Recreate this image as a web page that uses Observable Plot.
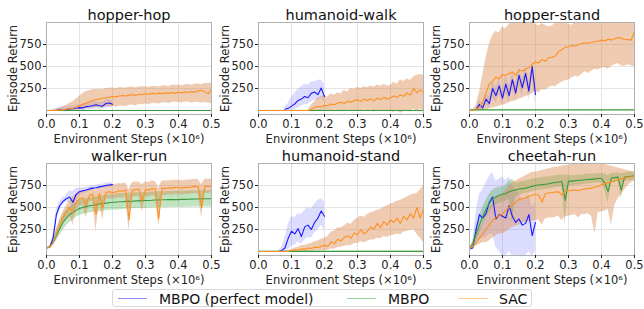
<!DOCTYPE html>
<html><head><meta charset="utf-8">
<script src="https://cdn.jsdelivr.net/npm/d3@7"></script>
<script src="https://cdn.jsdelivr.net/npm/@observablehq/plot@0.6"></script>
<style>
body{margin:0;background:#fff;font-family:"DejaVu Sans",sans-serif;}
#wrap{position:relative;width:644px;height:309px;overflow:hidden;}
.panel{position:absolute;}
#legend{position:absolute;left:112px;top:289px;width:420px;height:18px;border:1px solid #d8d8d8;border-radius:3px;box-sizing:border-box;font-size:14px;color:#111;}
.li{position:absolute;top:0;height:18px;line-height:18px;white-space:nowrap;}
.sw{position:absolute;top:8px;width:29px;height:0;border-top:1.5px solid;}
</style></head><body><div id="wrap"></div>
<script>
// ---------- x grids ----------
const steps = [0,0.01,0.02,0.03,0.04,0.05,0.06,0.07,0.08,0.09,
0.1,0.11,0.12,0.13,0.14,0.15,0.16,0.17,0.18,0.19,
0.2,0.21,0.22,0.23,0.24,0.25,0.26,0.27,0.28,0.29,
0.3,0.31,0.32,0.33,0.34,0.35,0.36,0.37,0.38,0.39,
0.4,0.41,0.42,0.43,0.44,0.45,0.46,0.47,0.48,0.49,
0.5];
const stepsPerfect = [0,0.01,0.02,0.03,0.04,0.05,0.06,0.07,0.08,0.09,
0.1,0.11,0.12,0.13,0.14,0.15,0.16,0.17,0.18,0.19,0.2];

const titles = ["hopper-hop","humanoid-walk","hopper-stand","walker-run","humanoid-stand","cheetah-run"];
const seriesNames = ["MBPO (perfect model)","MBPO","SAC"];
const xTicks = [0,0.1,0.2,0.3,0.4,0.5];
const yTicks = [250,500,750];

// ---------- hopper-hop ----------
const hopHopPerfect   = [null,null,0,3,8,12,10,18,20,28, 33,30,45,48,55,65,55,50,80,85, 72];
const hopHopPerfectLo = [null,null,-5,-10,-10,-10,-12,-10,-8,-5, 0,0,5,10,15,20,15,15,30,35, 30];
const hopHopPerfectHi = [null,null,5,25,35,40,45,50,55,60, 65,70,80,85,95,100,95,95,120,125, 110];
const hopHopMBPO   = [0,0,0,0,0,0,0,0,0,0, 0,0,0,0,0,0,0,0,0,0, 0,0,0,0,0,0,0,0,0,0, 0,0,0,0,0,0,0,0,0,0, 0,0,0,0,0,0,0,0,0,0, 0];
const hopHopMBPOLo = [0,0,0,0,0,0,0,0,0,0, 0,0,0,0,0,0,0,0,0,0, 0,0,0,0,0,0,0,0,0,0, 0,0,0,0,0,0,0,0,0,0, 0,0,0,0,0,0,0,0,0,0, 0];
const hopHopMBPOHi = [2,2,2,2,2,2,2,2,2,2, 2,2,2,2,2,2,2,2,2,2, 2,2,2,2,2,2,2,2,2,2, 2,2,2,2,2,2,2,2,2,2, 2,2,2,2,2,2,2,2,2,2, 2];
const hopHopSAC = [0,0,0,2,5,10,15,20,25,35,
55,70,85,100,115,125,130,140,145,150,
160,155,165,170,165,175,180,172,185,180,
190,185,195,188,198,192,200,195,205,198,
208,200,210,205,215,208,225,230,212,190,
240];
const hopHopSACLo = [0,0,0,0,0,0,-5,-5,0,5,
10,15,20,25,30,35,38,30,42,44,
45,38,50,52,45,60,62,55,68,70,
75,67,80,82,74,85,88,80,92,94,
95,86,95,96,85,95,94,82,90,85,
80];
const hopHopSACHi = [0,0,5,15,25,40,60,80,100,130,
160,190,215,225,235,240,243,236,250,252,
255,247,258,260,252,265,266,257,268,269,
270,262,274,276,268,280,282,274,286,288,
290,282,294,296,288,300,302,294,306,308,
310];

// ---------- humanoid-walk ----------
const humWalkPerfect   = [null,null,null,null,null,null,null,null,15,25, 50,75,115,130,160,145,195,210,180,255, 160];
const humWalkPerfectLo = [null,null,null,null,null,null,null,null,0,0, 0,10,30,50,70,70,100,120,110,150, 100];
const humWalkPerfectHi = [null,null,null,null,null,null,null,null,40,80, 150,200,240,270,300,290,320,330,340,350, 300];
const humWalkMBPO   = [0,0,0,0,0,0,0,0,0,0, 0,0,0,0,0,0,0,0,0,0, 0,0,0,0,0,0,0,0,0,0, 0,0,0,0,0,0,0,0,0,0, 0,0,0,0,0,0,0,0,0,0, 0];
const humWalkMBPOLo = [0,0,0,0,0,0,0,0,0,0, 0,0,0,0,0,0,0,0,0,0, 0,0,0,0,0,0,0,0,0,0, 0,0,0,0,0,0,0,0,0,0, 0,0,0,0,0,0,0,0,0,0, 0];
const humWalkMBPOHi = [2,2,2,2,2,2,2,2,2,2, 2,2,2,2,2,2,2,2,2,2, 2,2,2,2,2,2,2,2,2,2, 2,2,2,2,2,2,2,2,2,2, 2,2,2,2,2,2,2,2,2,2, 2];
const humWalkSAC = [0,0,0,0,0,0,0,0,0,0,
0,0,0,0,0,0,15,35,45,40,
60,55,75,65,85,95,80,105,95,115,
120,105,130,115,135,110,140,125,150,130,
145,165,150,180,160,200,175,250,200,235,
205];
const humWalkSACLo = [0,0,0,0,0,0,0,0,0,0,
0,0,0,0,0,0,0,0,-5,0,
-10,0,-5,5,0,-15,-5,5,0,-10,
0,-5,10,-10,5,-20,0,-10,5,-15,
0,-25,5,-35,-10,10,-20,20,-10,15,
0];
const humWalkSACHi = [0,0,0,0,0,0,0,0,0,0,
0,0,0,0,0,0,60,100,140,160,
170,150,190,175,200,190,230,210,250,240,
265,250,270,260,280,265,290,275,300,280,
285,320,300,350,330,360,340,380,400,410,
400];

// ---------- hopper-stand ----------
const hopStandPerfect   = [null,null,10,70,30,130,80,250,170,280, 140,300,170,350,200,400,260,420,220,500, 180];
const hopStandPerfectLo = [null,null,0,20,0,60,20,150,90,180, 60,200,80,250,120,300,160,320,120,380, 80];
const hopStandPerfectHi = [null,null,30,120,80,200,150,330,260,360, 230,400,270,450,300,490,360,520,330,560, 300];
const hopStandMBPO   = [8,8,8,8,8,8,8,8,8,8, 8,8,8,8,8,8,8,8,8,8, 8,8,8,8,8,8,8,8,8,8, 8,8,8,8,8,8,8,8,8,8, 8,8,8,8,8,8,8,8,8,8, 8];
const hopStandMBPOLo = [4,4,4,4,4,4,4,4,4,4, 4,4,4,4,4,4,4,4,4,4, 4,4,4,4,4,4,4,4,4,4, 4,4,4,4,4,4,4,4,4,4, 4,4,4,4,4,4,4,4,4,4, 4];
const hopStandMBPOHi = [12,12,12,12,12,12,12,12,12,12, 12,12,12,12,12,12,12,12,12,12, 12,12,12,12,12,12,12,12,12,12, 12,12,12,12,12,12,12,12,12,12, 12,12,12,12,12,12,12,12,12,12, 12];
const hopStandSAC = [0,0,10,40,100,200,300,330,380,360,
410,400,420,440,400,460,450,470,490,520,
555,540,580,560,600,605,620,670,690,720,
725,740,730,750,760,770,765,775,780,790,
800,790,810,800,815,830,820,810,805,800,
900];
const hopStandSACLo = [0,0,0,0,0,0,20,30,40,50,
60,70,90,100,110,130,140,160,170,190,
220,200,240,230,260,280,270,300,320,340,
345,370,390,380,410,440,420,450,470,460,
480,490,470,500,520,535,510,500,520,510,
500];
const hopStandSACHi = [0,5,60,200,400,600,750,850,900,880,
950,930,980,1010,990,1020,1010,1020,1000,990,
980,960,990,970,950,960,990,1010,1020,1000,
980,970,1000,1010,1020,1020,1010,1020,1030,1020,
1020,1030,1020,1030,1030,1020,1030,1020,1030,1030,
1030];

// ---------- walker-run ----------
const walkRunPerfect   = [40,50,150,420,520,570,600,620,560,650, 680,690,700,710,720,725,735,740,750,755, 760];
const walkRunPerfectLo = [35,40,100,360,470,530,560,560,460,580, 640,655,670,685,695,700,710,718,725,730, 735];
const walkRunPerfectHi = [45,60,200,480,570,610,640,690,680,720, 720,725,730,740,748,752,760,765,775,780, 785];
const walkRunMBPO = [40,50,100,180,260,330,380,420,440,470,
490,500,510,520,525,530,540,545,550,555,
560,560,565,565,570,570,572,575,575,578,
580,580,582,585,585,588,588,590,590,590,
590,592,592,594,595,596,597,598,600,600,
600];
const walkRunMBPOLo = [35,40,70,120,180,240,290,330,360,390,
410,420,430,440,445,450,455,460,465,470,
472,470,475,478,480,482,485,488,490,492,
490,495,495,497,498,500,498,500,502,500,
502,500,503,505,503,505,506,505,507,505,
505];
const walkRunMBPOHi = [45,60,130,240,340,420,470,510,530,560,
580,590,600,610,615,620,630,635,640,645,
650,652,655,658,660,662,665,667,668,670,
672,672,675,676,678,680,680,682,683,684,
685,686,686,688,688,689,690,690,692,692,
692];
const walkRunSAC = [40,50,100,200,300,380,450,500,440,560,
600,610,530,640,650,420,660,500,670,680,
670,675,690,685,700,360,695,705,710,575,
705,700,715,710,370,720,715,725,720,730,
725,720,730,728,735,740,735,500,745,740,
745];
const walkRunSACLo = [35,40,70,150,240,320,380,420,300,480,
520,530,380,560,570,220,580,350,590,600,
595,600,610,605,620,230,615,625,630,450,
625,620,635,630,280,640,635,645,640,650,
645,640,650,648,655,660,655,380,665,660,
665];
const walkRunSACHi = [45,60,130,250,360,450,520,580,620,650,
680,690,680,720,730,690,740,710,750,760,
760,765,770,770,780,700,780,790,790,760,
790,785,800,795,720,800,800,805,805,810,
810,805,810,812,815,820,815,760,825,820,
825];

// ---------- humanoid-stand ----------
const humStandPerfect   = [null,null,null,null,null,null,0,10,40,150, 230,200,260,170,280,300,250,330,380,460, 400];
const humStandPerfectLo = [null,null,null,null,null,null,0,0,0,20, 60,70,110,80,130,160,150,210,250,300, 250];
const humStandPerfectHi = [null,null,null,null,null,null,5,40,150,300, 400,380,430,420,470,500,480,540,580,600, 560];
const humStandMBPO   = [2,2,2,2,2,2,2,2,2,2, 2,2,2,2,2,2,2,2,2,2, 2,2,2,2,2,2,2,2,2,2, 2,2,2,2,2,2,2,2,2,2, 2,2,2,2,2,2,2,2,2,2, 2];
const humStandMBPOLo = [0,0,0,0,0,0,0,0,0,0, 0,0,0,0,0,0,0,0,0,0, 0,0,0,0,0,0,0,0,0,0, 0,0,0,0,0,0,0,0,0,0, 0,0,0,0,0,0,0,0,0,0, 0];
const humStandMBPOHi = [4,4,4,4,4,4,4,4,4,4, 4,4,4,4,4,4,4,4,4,4, 4,4,4,4,4,4,4,4,4,4, 4,4,4,4,4,4,4,4,4,4, 4,4,4,4,4,4,4,4,4,4, 4];
const humStandSAC = [0,0,0,0,0,0,0,0,0,3,
10,20,15,30,25,40,35,50,45,60,
70,60,110,90,140,120,160,180,150,210,
190,250,200,230,280,250,320,270,340,300,
360,330,380,320,400,360,430,380,500,380,
480];
const humStandSACLo = [0,0,0,0,0,0,0,0,0,0,
0,0,0,0,0,0,0,5,5,8,
10,15,30,25,45,50,60,70,65,90,
90,110,100,115,130,130,150,145,170,160,
180,185,200,190,220,230,240,250,200,150,
100];
const humStandSACHi = [0,0,0,0,0,0,0,0,5,10,
20,40,50,70,70,80,90,110,120,140,
150,170,220,230,270,270,290,320,310,350,
380,400,390,420,440,450,470,480,500,520,
540,550,570,580,600,620,640,650,660,700,
750];

// ---------- cheetah-run ----------
const cheetahPerfect   = [30,40,250,420,380,430,560,620,370,420, 400,380,520,400,330,370,300,320,420,180, 330];
const cheetahPerfectLo = [20,20,80,150,150,150,200,200,50,0, -50,-50,0,-50,-50,-50,-50,-50,0,-50, 0];
const cheetahPerfectHi = [40,100,450,650,700,780,850,900,800,820, 850,800,850,750,700,650,600,600,650,500, 550];
const cheetahMBPO = [30,80,200,300,400,480,550,600,620,640,
650,660,680,690,700,710,715,720,730,740,
750,755,760,765,770,780,785,790,795,580,
800,800,805,810,810,815,820,820,825,830,
830,780,680,835,840,845,700,845,850,855,
860];
const cheetahMBPOLo = [25,40,120,200,300,380,450,500,530,550,
560,570,590,330,620,640,650,660,670,680,
690,695,700,705,710,720,725,730,735,300,
740,745,750,755,760,765,770,770,775,780,
780,700,550,785,790,795,600,795,800,805,
810];
const cheetahMBPOHi = [35,120,280,400,500,580,650,700,720,730,
740,750,800,820,780,790,795,800,810,820,
830,835,840,845,850,855,860,865,870,870,
860,860,865,870,870,875,880,880,880,885,
890,880,860,885,890,895,880,895,900,905,
905];
const cheetahSAC = [30,60,100,150,200,250,300,350,390,410,
425,470,500,530,560,590,600,610,625,640,
650,640,560,660,665,670,675,680,640,685,
690,695,700,690,705,710,715,720,730,740,
760,770,780,790,800,815,825,835,845,850,
860];
const cheetahSACLo = [25,40,60,80,100,100,120,150,180,200,
200,220,250,270,290,300,320,330,340,350,
350,360,300,370,380,380,390,400,350,400,
400,410,420,380,420,420,430,400,200,440,
450,460,480,300,520,600,650,700,750,780,
800];
const cheetahSACHi = [35,100,180,250,320,400,480,550,600,630,
650,700,750,780,800,820,840,860,880,900,
900,910,920,930,940,950,960,960,970,980,
980,990,1000,990,1000,1000,990,1000,1000,1000,
1000,990,980,970,960,950,940,930,920,910,
900];

// ---------- assembly ----------
const colors = {
  line: ["#1a1aff", "#3c9a3c", "#ff9020"],
  band: ["#7878ff", "#3aa83a", "#d98c52"],
  bandOpacity: [0.26, 0.32, 0.45],
  legend: ["#8c8cff", "#96cf96", "#ffc58a"]
};

const panels = [
  [[hopHopPerfect,hopHopPerfectLo,hopHopPerfectHi],[hopHopMBPO,hopHopMBPOLo,hopHopMBPOHi],[hopHopSAC,hopHopSACLo,hopHopSACHi]],
  [[humWalkPerfect,humWalkPerfectLo,humWalkPerfectHi],[humWalkMBPO,humWalkMBPOLo,humWalkMBPOHi],[humWalkSAC,humWalkSACLo,humWalkSACHi]],
  [[hopStandPerfect,hopStandPerfectLo,hopStandPerfectHi],[hopStandMBPO,hopStandMBPOLo,hopStandMBPOHi],[hopStandSAC,hopStandSACLo,hopStandSACHi]],
  [[walkRunPerfect,walkRunPerfectLo,walkRunPerfectHi],[walkRunMBPO,walkRunMBPOLo,walkRunMBPOHi],[walkRunSAC,walkRunSACLo,walkRunSACHi]],
  [[humStandPerfect,humStandPerfectLo,humStandPerfectHi],[humStandMBPO,humStandMBPOLo,humStandMBPOHi],[humStandSAC,humStandSACLo,humStandSACHi]],
  [[cheetahPerfect,cheetahPerfectLo,cheetahPerfectHi],[cheetahMBPO,cheetahMBPOLo,cheetahMBPOHi],[cheetahSAC,cheetahSACLo,cheetahSACHi]]
];

function rows(xs, [mean, lo, hi]) {
  return xs.map((x, i) => ({x, y: mean[i], lo: lo[i], hi: hi[i]})).filter(d => d.y != null);
}

const wrap = document.getElementById("wrap");
const colLeft = [0, 212, 423];
const rowTop = [0, 141];

panels.forEach((p, k) => {
  const marks = [
    Plot.gridX([0.1,0.2,0.3,0.4], {stroke: "#e4e4e4", strokeOpacity: 1}),
    Plot.gridY(yTicks, {stroke: "#e4e4e4", strokeOpacity: 1})
  ];
  p.forEach((s, j) => {
    const data = rows(j === 0 ? stepsPerfect : steps, s);
    marks.push(Plot.areaY(data, {x: "x", y1: "lo", y2: "hi", fill: colors.band[j], fillOpacity: colors.bandOpacity[j], clip: true}));
  });
  p.forEach((s, j) => {
    const data = rows(j === 0 ? stepsPerfect : steps, s);
    marks.push(Plot.line(data, {x: "x", y: "y", stroke: colors.line[j], strokeWidth: 1.1, clip: true}));
  });
  marks.push(Plot.frame({stroke: "#b0b0b0"}));
  marks.push(Plot.axisX({ticks: xTicks, tickFormat: d3.format(".1f"), tickSize: 3, tickPadding: 2, fontSize: 11.5,
    label: "Environment Steps (×10⁶)", labelAnchor: "center", labelOffset: 28, labelArrow: "none"}));
  marks.push(Plot.axisY({ticks: yTicks, tickSize: 3, tickPadding: 2, fontSize: 11.5,
    label: "Episode Return", labelAnchor: "center", labelOffset: 37.5, labelArrow: "none"}));
  marks.push(Plot.text([titles[k]], {frameAnchor: "top", lineAnchor: "bottom", dy: -3, fontSize: 14.5, fill: "#111"}));

  const chart = Plot.plot({
    width: 219, height: 150,
    marginLeft: 46, marginRight: 8, marginTop: 22, marginBottom: 36,
    x: {domain: [0, 0.5]},
    y: {domain: [-45, 1000]},
    style: {fontFamily: "DejaVu Sans", fontSize: "11.5px", color: "#222", background: "transparent", overflow: "visible"},
    marks
  });
  const div = document.createElement("div");
  div.className = "panel";
  div.style.left = colLeft[k % 3] + "px";
  div.style.top = rowTop[Math.floor(k / 3)] + "px";
  div.appendChild(chart);
  wrap.appendChild(div);
});

// legend
const legend = document.createElement("div");
legend.id = "legend";
const swLeft = [5, 234, 346];
const txtLeft = [46, 275, 386];
seriesNames.forEach((name, j) => {
  const sw = document.createElement("div");
  sw.className = "sw";
  sw.style.left = swLeft[j] + "px";
  sw.style.borderTopColor = colors.legend[j];
  legend.appendChild(sw);
  const t = document.createElement("div");
  t.className = "li";
  t.style.left = txtLeft[j] + "px";
  t.textContent = name;
  legend.appendChild(t);
});
wrap.appendChild(legend);
</script></body></html>
